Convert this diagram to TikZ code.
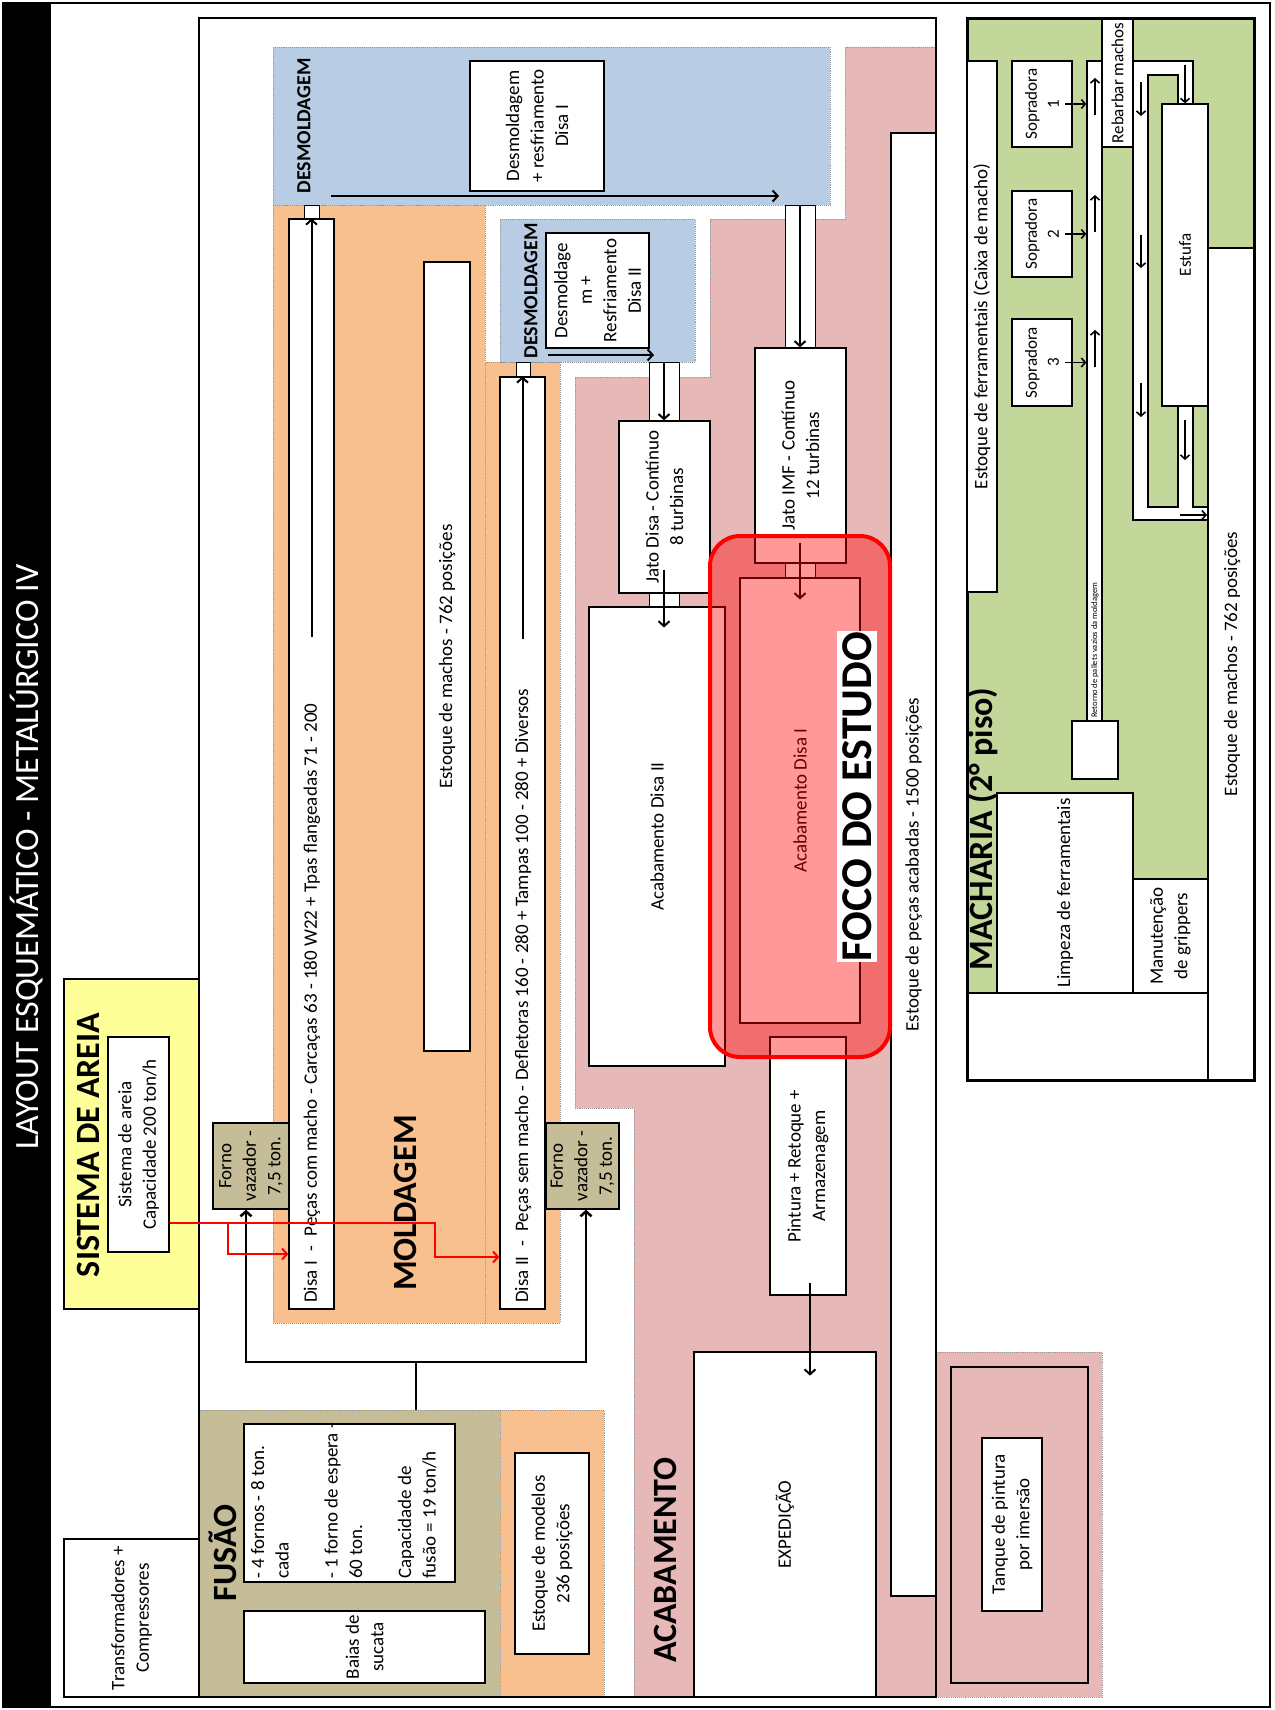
\documentclass[tikz,border=0pt]{standalone}
\usepackage{fontspec}
\setmainfont{Carlito}
\usetikzlibrary{arrows.meta,fit}
\definecolor{orng}{HTML}{F8C08F}
\definecolor{blu}{HTML}{B8CCE4}
\definecolor{pnk}{HTML}{E6B8B7}
\definecolor{tanc}{HTML}{C4BD97}
\definecolor{grn}{HTML}{C4D79B}
\definecolor{ylw}{HTML}{FFFF99}
\newcommand\lbx[7][txt]{%
  \coordinate (#2-a) at (#4,#5);
  \coordinate (#2-b) at (#6,#7);
  \node[#3, fit=(#2-a)(#2-b)] (#2) {};
}
\newcommand\ltx[3][txt]{\node[#1, rotate=90, align=center] (#2-t) at (#2.center) {#3};}
\tikzset{
  txt/.style={font=\fontsize{19}{24.5}\selectfont, inner sep=0pt},
  stxt/.style={font=\fontsize{17}{22}\selectfont, inner sep=0pt},
  wbox/.style={draw=black, fill=white, line width=1.3pt, inner sep=0pt},
  tbox/.style={draw=black, fill=tanc, line width=1.3pt, inner sep=0pt},
  region/.style={draw=gray!80, densely dotted, line width=0.9pt, inner sep=0pt},
  sect/.style={font=\fontsize{34}{40}\selectfont\bfseries, rotate=90, inner sep=0pt},
  dsect/.style={font=\fontsize{20}{24}\selectfont\bfseries, rotate=90, inner sep=0pt},
  arr/.style={line width=2pt, -{Straight Barb[length=5pt,width=11pt]}},
  sarr/.style={line width=1.6pt, -{Straight Barb[length=4pt,width=9pt]}},
  redarr/.style={red, line width=2pt, -{Straight Barb[length=5pt,width=11pt]}},
  blk/.style={line width=2.5pt, -{Straight Barb[length=5pt,width=11pt]}},
}
\begin{document}
\begin{tikzpicture}[x=1pt,y=-1pt]
\path[use as bounding box, fill=white] (0,0) rectangle (1274,1710);
\fill[black] (3,3) rectangle (51,1707);
\draw[line width=2.5pt] (3,3) rectangle (1270,1707);
\node[rotate=90, text=white, font=\fontsize{34}{40}\selectfont, inner sep=0pt] (title) at (27,857) {LAYOUT ESQUEMÁTICO - METALÚRGICO IV};

% ---------- regions ----------
\path[region, fill=pnk] (845,47) -- (936,47) -- (936,1697) -- (634,1697) -- (634,1108) -- (575,1108) -- (575,377) -- (710,377) -- (710,219) -- (845,219) -- cycle;
\lbx{mold1}{region, fill=orng}{273}{205}{485}{1323}
\lbx{mold2}{region, fill=orng}{485}{362}{560}{1323}
\lbx{desm1}{region, fill=blu}{273}{47}{830}{205}
\lbx{desm2}{region, fill=blu}{500}{219}{695}{362}
\lbx{fusao}{region, fill=tanc}{199}{1410}{500}{1697}
\lbx{modelos}{region, fill=orng}{500}{1410}{604}{1697}
\lbx{tanqr}{region, fill=pnk}{936}{1352}{1102}{1697}
\draw[line width=1.2pt] (199,18) rectangle (936,1697);
\lbx{areia}{draw=black, fill=ylw, line width=1.3pt, inner sep=0pt}{64}{979}{199}{1309}
\lbx{transf}{wbox}{64}{1539}{199}{1697}
\ltx{transf}{Transformadores +\\Compressores}

% ---------- section labels ----------
\node[sect] (areial) at (88,1145) {SISTEMA DE AREIA};
\node[sect] (moldl) at (405,1203) {MOLDAGEM};
\node[sect] (fusaol) at (223,1553) {FUSÃO};
\node[sect] (acabl) at (665,1560) {ACABAMENTO};
\node[dsect] (desm1l) at (304,126) {DESMOLDAGEM};
\node[dsect] (desm2l) at (531,291) {DESMOLDAGEM};

% ---------- sistema de areia ----------
\lbx{areiai}{wbox}{108}{1037}{169}{1252}
\ltx{areiai}{Sistema de areia\\Capacidade 200 ton/h}

% ---------- moldagem ----------
\lbx{desm1i}{wbox}{470}{61}{604}{191}
\ltx{desm1i}{Desmoldagem\\+ resfriamento\\Disa I}
\lbx{c1}{wbox, line width=1pt}{304}{205}{319}{219}
\lbx{disa1}{wbox}{289}{219}{334}{1309}
\node[txt, rotate=90, anchor=west] (disa1-t) at (312,1303) {Disa I\enspace -\enspace Peças com macho - Carcaças 63 - 180 W22 + Tpas flangeadas 71 - 200};
\lbx{estmach}{wbox}{424}{262}{470}{1051}
\ltx{estmach}{Estoque de machos - 762 posições}
\lbx{desm2i}{wbox}{546}{233}{649}{348}
\ltx{desm2i}{Desmoldage\\m +\\Resfriamento\\Disa II}
\lbx{c2}{wbox, line width=1pt}{516}{362}{530}{377}
\lbx{disa2}{wbox}{500}{377}{545}{1309}
\node[txt, rotate=90, anchor=west] (disa2-t) at (523,1303) {Disa II\enspace -\enspace Peças sem macho - Defletoras 160 - 280 + Tampas 100 - 280 + Diversos};
\lbx{forno1}{tbox}{213}{1123}{289}{1209}
\ltx{forno1}{Forno\\vazador -\\7,5 ton.}
\lbx{forno2}{tbox}{546}{1123}{619}{1209}
\ltx{forno2}{Forno\\vazador -\\7,5 ton.}

% ---------- fusao ----------
\lbx{fornos}{wbox}{244}{1424}{455}{1582}
\node[txt, rotate=90, align=left, anchor=north west] (fornos-t) at (251,1579) {- 4 fornos - 8 ton.\\cada\\[24.5pt]- 1 forno de espera -\\60 ton.\\[24.5pt]Capacidade de\\fusão = 19 ton/h};
\lbx{baias}{wbox}{244}{1611}{485}{1683}
\ltx{baias}{Baias de\\sucata}
\lbx{modi}{wbox}{515}{1453}{589}{1654}
\ltx{modi}{Estoque de modelos\\236 posições}

% ---------- acabamento ----------
\lbx{c3}{wbox, line width=1pt}{785}{205}{815}{348}
\lbx{jatoimf}{wbox}{755}{348}{846}{563}
\ltx{jatoimf}{Jato IMF - Contínuo\\12 turbinas}
\lbx{c4}{wbox, line width=1pt}{785}{563}{815}{578}
\lbx{c5}{wbox, line width=1pt}{649}{362}{679}{421}
\lbx{jatodisa}{wbox}{619}{421}{710}{593}
\ltx{jatodisa}{Jato Disa - Contínuo\\8 turbinas}
\lbx{c6}{wbox, line width=1pt}{649}{593}{679}{607}
\lbx{acab2}{wbox}{589}{607}{725}{1066}
\ltx{acab2}{Acabamento Disa II}
\lbx{acab1}{wbox}{740}{578}{860}{1023}
\ltx{acab1}{Acabamento Disa I}
\lbx{pintura}{wbox}{770}{1037}{846}{1295}
\ltx{pintura}{Pintura + Retoque +\\Armazenagem}
\lbx{exped}{wbox}{694}{1352}{876}{1697}
\ltx{exped}{EXPEDIÇÃO}
\lbx{estacab}{wbox}{891}{133}{936}{1596}
\ltx{estacab}{Estoque de peças acabadas - 1500 posições}
\lbx{tanqo}{draw=black, fill=pnk, line width=1.3pt, inner sep=0pt}{951}{1367}{1088}{1683}
\lbx{tanqi}{wbox}{982}{1438}{1042}{1611}
\ltx{tanqi}{Tanque de pintura\\por imersão}

% ---------- arrows ----------
\draw[arr] (disa1.north |- 0,637) -- (disa1.north);
\draw[arr] (disa2.north |- 0,639) -- (disa2.north);
\draw[arr] (331,196) -- (779,196);
\draw[arr] (548,355) -- (654,355);
\draw[arr] (c3.north) -- (jatoimf.north -| c3.north);
\draw[arr] (c5.north) -- (jatodisa.north -| c5.north);
\draw[arr] ([yshift=23pt]c6.north) -- ++(0,58);
\draw[arr] ([yshift=20pt]c4.north) -- ++(0,57);
\draw[arr] ([yshift=13pt]pintura.south -| 810,0) -- ++(0,93);
\draw[line width=2.5pt] (fusao.north -| 416,0) -- (416,1362);
\draw[blk] (416,1362) -| ([xshift=-5pt]forno1.south);
\draw[blk] (416,1362) -| ([xshift=3.5pt]forno2.south);
\draw[redarr] (areiai.east |- 0,1223) -- (435,1223) |- (disa2.west |- 0,1257);
\draw[redarr] (228,1223) |- (disa1.west |- 0,1254);

% ---------- foco ----------
\fill[red, opacity=0.4, rounded corners=30pt] (710,536) rectangle (890,1057);
\draw[red, line width=4pt, rounded corners=30pt] (710,536) rectangle (890,1057);
\lbx{focob}{fill=white, inner sep=0pt}{837}{631}{877}{962}
\ltx[font=\fontsize{44}{50}\selectfont\bfseries, inner sep=0pt]{focob}{FOCO DO ESTUDO}

% ---------- macharia ----------
\lbx{mach}{draw=black, fill=white, line width=3pt, inner sep=0pt}{967}{19}{1254}{1080}
\fill[grn] (967,19) -- (1254,19) -- (1254,248) -- (1208,248) -- (1208,993) -- (967,993) -- cycle;
\draw[line width=1.3pt] (1254,248) -- (1208,248) -- (1208,1080);
\draw[line width=1.3pt] (967,993) -- (1208,993);
\draw[line width=3pt] (967,19) rectangle (1254,1080);
\node[txt, rotate=90] (estmach2) at (1232,664) {Estoque de machos - 762 posições};
\lbx{estferr}{wbox}{967}{61}{997}{592}
\ltx{estferr}{Estoque de ferramentais (Caixa de macho)}
\lbx{sop1}{wbox}{1012}{61}{1072}{147}
\ltx[stxt]{sop1}{Sopradora\\1}
\lbx{sop2}{wbox}{1012}{191}{1072}{277}
\ltx[stxt]{sop2}{Sopradora\\2}
\lbx{sop3}{wbox}{1012}{319}{1072}{406}
\ltx[stxt]{sop3}{Sopradora\\3}
\lbx{conv1}{wbox}{1087}{61}{1102}{721}
\node[font=\fontsize{8.5}{10}\selectfont, rotate=90, anchor=west, inner sep=0pt] (conv1-t) at (1095,718) {Retorno de pallets vazios da moldagem};
\lbx{smallb}{wbox}{1072}{721}{1118}{779}
\lbx{rebarb}{wbox}{1102}{19}{1133}{147}
\ltx[stxt]{rebarb}{Rebarbar machos}
\path[draw=black, fill=white, line width=1.3pt] (1133,61) -- (1193,61) -- (1193,104) -- (1178,104) -- (1178,75) -- (1148,75) -- (1148,507) -- (1178,507) -- (1178,406) -- (1193,406) -- (1193,507) -- (1208,507) -- (1208,520) -- (1133,520) -- cycle;
\lbx{estufa}{wbox}{1162}{104}{1208}{406}
\ltx[stxt]{estufa}{Estufa}
\lbx{limp}{wbox}{997}{793}{1133}{993}
\ltx{limp}{Limpeza de ferramentais}
\lbx{manut}{wbox}{1133}{879}{1208}{993}
\ltx{manut}{Manutenção\\de grippers}
\node[sect] (machl) at (983,829) {MACHARIA (2° piso)};
\draw[sarr] ([xshift=-8pt]sop1.east) -- (conv1.west |- sop1.east);
\draw[sarr] ([xshift=-8pt]sop2.east) -- (conv1.west |- sop2.east);
\draw[sarr] ([xshift=-8pt]sop3.east) -- (conv1.west |- sop3.east);
\draw[sarr] (1095,115) -- (1095,78);
\draw[sarr] (1095,232) -- (1095,195);
\draw[sarr] (1095,367) -- (1095,330);
\draw[sarr] (1185,65) -- (estufa.north -| 1185,0);
\draw[sarr] (1141,82) -- (1141,116);
\draw[sarr] (1141,235) -- (1141,268);
\draw[sarr] (1141,383) -- (1141,417);
\draw[sarr] (1185,420) -- (1185,460);
\draw[sarr] (1180,515) -- (1207,515);
\end{tikzpicture}
\end{document}
